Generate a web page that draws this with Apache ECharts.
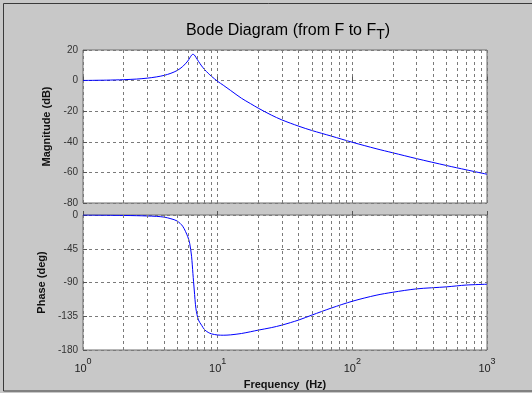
<!DOCTYPE html>
<html>
<head>
<meta charset="utf-8">
<script src="https://cdn.jsdelivr.net/npm/echarts@6/dist/echarts.min.js"></script>
<style>
  html, body { margin: 0; padding: 0; background: #c8c8c8; }
  #main { width: 532px; height: 393px; }
</style>
</head>
<body>
<div id="main"></div>
<script>
// frequencies (Hz)
var freqs = [1, 1.5, 2, 2.5, 3, 3.5, 4, 4.5, 5, 5.5, 6, 6.2, 6.4, 6.55, 6.7, 6.9, 7.2, 7.6, 8, 8.5, 9,
  10, 11, 12.5, 15, 17.5, 20, 25, 30, 40, 50, 70, 100, 150, 200, 300, 500, 700, 1000];
// magnitude (dB)
var magDb = [0.1, 0.3, 0.6, 1.0, 1.6, 2.4, 3.4, 4.8, 6.6, 9.2, 12.8, 14.8, 16.6, 17.2, 16.8, 15.2, 12.6, 9.6, 7.2, 4.8, 2.8,
  -0.5, -3.0, -6.5, -11.5, -15, -18, -22.5, -25.7, -29.8, -32.6, -36.3, -40.3, -44.5, -47.2, -51, -55.5, -58.3, -61.2];
// phase (deg)
var phaseDeg = [0, -0.3, -0.6, -0.9, -1.3, -1.8, -2.8, -5, -8, -15, -29, -38, -55, -78, -100, -125, -140, -147, -153, -156.5, -158.5,
  -160, -160.3, -159.8, -158, -155.7, -153.5, -150.2, -146.8, -140, -133.5, -124, -115, -107, -103, -98.5, -95.8, -93.4, -92.3];

var magTicks = [-80, -60, -40, -20, 0, 20];
var phaseTicks = [-180, -135, -90, -45, 0];
var decades = [1, 10, 100];
var minorSteps = [2, 3, 4, 5, 6, 7, 8, 9];

var minorX = [];
decades.forEach(function (d) {
  minorSteps.forEach(function (m) { minorX.push(d * m); });
});

var gridColor = '#7a7a7a';
var dash = [3, 3];
var font = 'Liberation Sans, Arial, sans-serif';

var magData = freqs.map(function (f, i) { return [f, magDb[i]]; });
var phaseData = freqs.map(function (f, i) { return [f, phaseDeg[i]]; });

function minorLines() {
  return {
    silent: true,
    symbol: 'none',
    label: { show: false },
    lineStyle: { color: gridColor, type: dash, width: 1 },
    data: minorX.map(function (v) { return { xAxis: v }; })
  };
}

function xAxisFor(idx, showLabels) {
  return {
    type: 'log',
    logBase: 10,
    gridIndex: idx,
    min: 1,
    max: 1000,
    axisLine: { show: false },
    axisTick: { show: true, inside: true, length: 4, lineStyle: { color: '#555' } },
    splitLine: { show: true, lineStyle: { color: gridColor, type: dash } },
    axisLabel: {
      show: showLabels,
      margin: 7,
      formatter: function (v) {
        var e = Math.round(Math.log(v) / Math.LN10);
        return '{b|10}{s|' + e + '}';
      },
      rich: {
        b: { fontFamily: font, fontSize: 11, color: '#222', padding: [6, 0, 0, 0] },
        s: { fontFamily: font, fontSize: 9, color: '#222', verticalAlign: 'top' }
      }
    },
    name: showLabels ? 'Frequency  (Hz)' : '',
    nameLocation: 'middle',
    nameGap: 29,
    nameTextStyle: { fontFamily: font, fontSize: 11, fontWeight: 'bold', color: '#111' }
  };
}

function yAxisFor(idx, ticks, interval, name, gap) {
  return {
    type: 'value',
    gridIndex: idx,
    min: ticks[0],
    max: ticks[ticks.length - 1],
    interval: interval,
    axisLine: { show: false },
    axisTick: { show: true, inside: true, length: 4, lineStyle: { color: '#555' } },
    splitLine: { show: true, lineStyle: { color: gridColor, type: dash } },
    axisLabel: { fontFamily: font, fontSize: 10, color: '#333', margin: 5 },
    name: name,
    nameLocation: 'middle',
    nameGap: gap,
    nameTextStyle: { fontFamily: font, fontSize: 11, fontWeight: 'bold', color: '#111' }
  };
}

var chart = echarts.init(document.getElementById('main'), null, { renderer: 'canvas' });
chart.setOption({
  animation: false,
  backgroundColor: '#c8c8c8',
  title: {
    text: '{a|Bode Diagram (from F to F}{t|T}{a|)}',
    left: 283,
    textAlign: 'center',
    top: 20,
    textStyle: {
      fontWeight: 'normal',
      rich: {
        a: { fontFamily: font, fontSize: 16, fontWeight: 'normal', color: '#000', lineHeight: 17, padding: [0, 0, 6, 0] },
        t: { fontFamily: font, fontSize: 14, fontWeight: 'normal', color: '#000', lineHeight: 15, verticalAlign: 'bottom' }
      }
    }
  },
  graphic: [{
    type: 'rect',
    shape: { x: 3.5, y: 3.5, width: 540, height: 387.5 },
    style: { fill: 'none', stroke: '#3a3a3a', lineWidth: 1 },
    silent: true
  }],
  grid: [
    { left: 83, top: 50, width: 404, height: 153, show: true, backgroundColor: '#fff', borderColor: '#6e6e6e', borderWidth: 1 },
    { left: 83, top: 215, width: 404, height: 135, show: true, backgroundColor: '#fff', borderColor: '#6e6e6e', borderWidth: 1 }
  ],
  xAxis: [xAxisFor(0, false), xAxisFor(1, true)],
  yAxis: [
    yAxisFor(0, magTicks, 20, 'Magnitude (dB)', 30),
    yAxisFor(1, phaseTicks, 45, 'Phase (deg)', 34)
  ],
  series: [
    {
      type: 'line', xAxisIndex: 0, yAxisIndex: 0, data: magData,
      showSymbol: false, smooth: 0.3,
      lineStyle: { color: '#0000ff', width: 1 },
      markLine: minorLines()
    },
    {
      type: 'line', xAxisIndex: 1, yAxisIndex: 1, data: phaseData,
      showSymbol: false, smooth: 0.3,
      lineStyle: { color: '#0000ff', width: 1 },
      markLine: minorLines()
    }
  ]
});
</script>
</body>
</html>
